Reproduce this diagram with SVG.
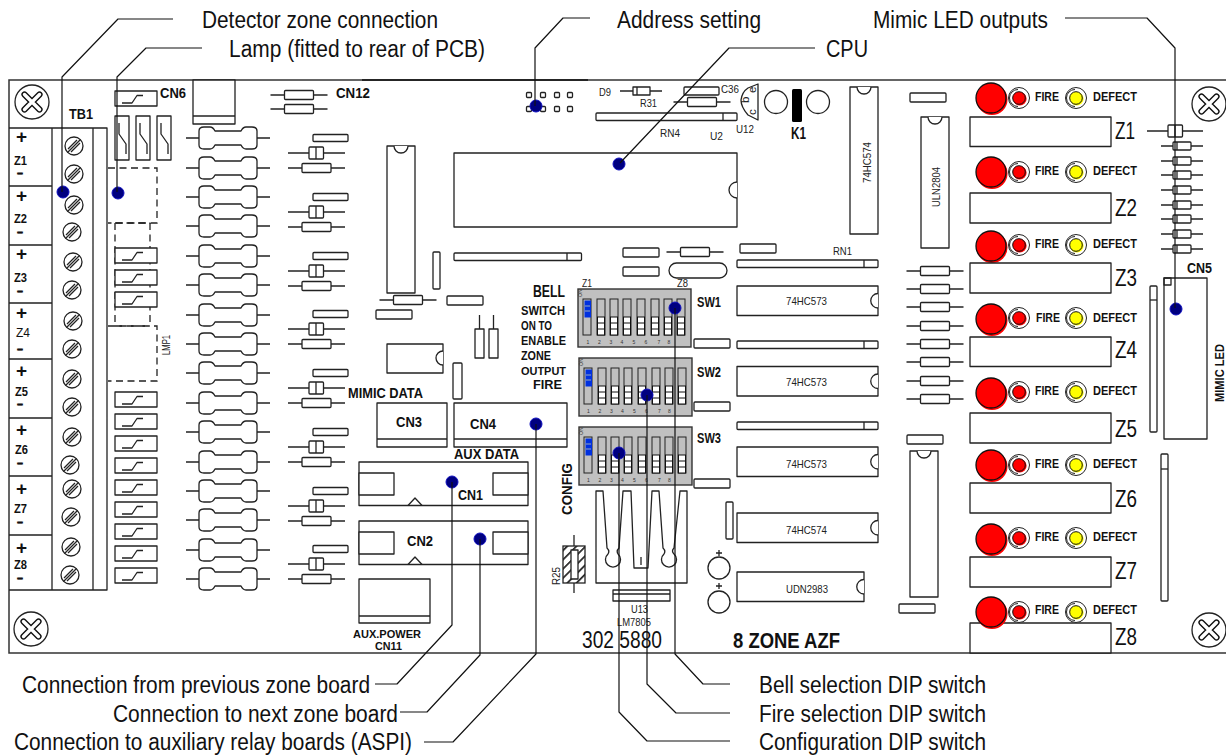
<svg xmlns="http://www.w3.org/2000/svg" xmlns:xlink="http://www.w3.org/1999/xlink" width="1226" height="755" viewBox="0 0 1226 755">
<style>
.l{fill:none;stroke:#222;stroke-width:1.3;stroke-linejoin:round}
.w{fill:#fff;stroke:#222;stroke-width:1.3;stroke-linejoin:round}
.d{fill:none;stroke:#222;stroke-width:1.3;stroke-dasharray:7 4.5}
.ld{fill:none;stroke:#111;stroke-width:1.2;stroke-linejoin:round}
.dot{fill:#000080;stroke:#1010c0;stroke-width:1}
text{font-family:"Liberation Sans",Arial,sans-serif;fill:#111}
.b{font-weight:bold}
.c{font-size:23px}
.s{font-size:11.500px;fill:#222}
.n{font-size:5px;fill:#333}
.f{font-size:12.500px;font-weight:bold}
.z{font-size:23px}
.cn{font-size:15px;font-weight:bold}
.zl{font-size:13.500px;font-weight:bold}
.mn{font-size:10px;font-weight:bold;stroke:#111;stroke-width:0.700px}
.sw{font-size:14px;font-weight:bold}
</style>
<defs>
<g id="screw"><circle r="17" class="w"/><path d="M-7.500-7.500 7.500 7.500M-7.500 7.500 7.500-7.500" fill="none" stroke="#111" stroke-width="6.200" stroke-linecap="round"/><path d="M-7.500-7.500 7.500 7.500M-7.500 7.500 7.500-7.500" fill="none" stroke="#fff" stroke-width="3.400" stroke-linecap="round"/></g>
<g id="term"><circle r="9" class="w"/><path d="M-6 3 3-6M-6.500 6.500 6.500-6.500M-3 6 6-3" class="l"/></g>
<g id="swh"><rect width="42" height="15" class="w"/><path d="M7 12H17L22 4.500H28" class="l"/></g>
<g id="swv"><rect width="14" height="44" class="w"/><path d="M4 7V18L11 28V38" class="l"/></g>
<g id="fuse"><path d="M-42 0H-29M29 0H42" class="l"/><path d="M-24-11H-18Q-15-11-13-7H13Q15-11 18-11H24Q29-11 29-7V7Q29 11 24 11H18Q15 11 13 7H-13Q-15 11-18 11H-24Q-29 11-29 7V-7Q-29-11-24-11Z" class="w"/></g>
<g id="res"><path d="M-28.500 0H28.500" class="l"/><rect x="-14.500" y="-4.500" width="29" height="9" rx="1" class="w"/></g>
<g id="rgrp"><rect x="-3" y="-3.500" width="35" height="7" rx="1" class="w"/><path d="M-28 15H29" class="l"/><rect x="-7" y="9" width="14.500" height="12" rx="1" class="w"/><path d="M0 9V21" class="l"/><use xlink:href="#res" href="#res" y="30" x="0.500"/></g>
<g id="dr"><path d="M-14 0H28" class="l"/><rect x="-2" y="-4" width="18" height="8" rx="1" class="w"/><path d="M2-4V4" class="l"/></g>
<g id="rect36"><rect width="36" height="9" rx="1" class="w"/></g>
<g id="strip"><rect width="141" height="7.500" rx="1" class="w"/><path d="M127 0V7.500" class="l"/></g>
<g id="ic141"><rect width="141" height="29.500" class="w"/><path d="M141 7.500A7 7 0 0 0 141 22" class="w"/></g>
<g id="cn12"><rect width="169" height="43.500" class="w"/><rect y="11" width="35" height="22" class="w"/><rect x="134" y="11" width="35" height="22" class="w"/><path d="M49 43.500 56 36 63 43.500" class="l"/></g>
<g id="big"><circle cx="1" cy="1.500" r="15.500" fill="#f00"/><circle r="15" fill="#f00" stroke="#111" stroke-width="1.300"/></g>
<g id="ring"><circle r="10.500" fill="#fff" stroke="#222" stroke-width="1"/><path d="M-1-8.500A8.500 8.500 0 0 0-1 8.500" fill="none" stroke="#222" stroke-width="1"/></g>
<g id="redled"><use xlink:href="#ring" href="#ring"/><circle cx="0.800" cy="0.800" r="6.800" fill="#f00"/><circle r="6.300" fill="#f00" stroke="#111"/></g>
<g id="yelled"><use xlink:href="#ring" href="#ring"/><circle cx="0.800" cy="0.800" r="6.800" fill="#ff0"/><circle r="6.300" fill="#ff0" stroke="#111"/></g>
<g id="slot"><rect width="8" height="36" fill="#c0c0c0" stroke="#222" stroke-width="1"/><rect x="0.500" y="18" width="7" height="18" fill="#fff" stroke="#111" stroke-width="1"/><path d="M0.500 24H7.500M0.500 30H7.500" stroke="#111" stroke-width="1" fill="none"/></g>
<g id="slot1"><rect width="8" height="36" fill="#c0c0c0" stroke="#222" stroke-width="1"/><rect x="1.500" y="1.500" width="6.500" height="17" fill="#0030e0"/><path d="M2 7H7M2 12H7" stroke="#9ab" stroke-width="1" fill="none"/></g>
<g id="dip"><rect width="113" height="58" fill="#c0c0c0" stroke="#333" stroke-width="1.400"/><use xlink:href="#slot1" href="#slot1" x="5" y="10"/><use xlink:href="#slot" href="#slot" x="19" y="10"/><use xlink:href="#slot" href="#slot" x="32" y="10"/><use xlink:href="#slot" href="#slot" x="45" y="10"/><use xlink:href="#slot" href="#slot" x="59" y="10"/><use xlink:href="#slot" href="#slot" x="73" y="10"/><use xlink:href="#slot" href="#slot" x="86" y="10"/><use xlink:href="#slot" href="#slot" x="99" y="10"/></g>
<pattern id="hatch" width="6.500" height="6.500" patternUnits="userSpaceOnUse" patternTransform="rotate(45)"><rect width="6.500" height="6.500" fill="#fff"/><rect width="1.700" height="6.500" fill="#222"/></pattern>
</defs>
<rect width="1226" height="755" fill="#fff"/>

<g id="board"><path d="M1226 80H9V653H1226" fill="none" stroke="#333" stroke-width="1.500"/><path d="M362 80H588" stroke="#111" stroke-width="1.500" fill="none"/></g>

<g id="mount-screws">
<use xlink:href="#screw" href="#screw" x="32" y="102"/>
<use xlink:href="#screw" href="#screw" x="31" y="629"/>
<use xlink:href="#screw" href="#screw" x="1209" y="104"/>
<use xlink:href="#screw" href="#screw" x="1209" y="630"/>
</g>

<g id="tb1">
<path d="M9 128H107V590H9M52 128V590M93 128V590M9 186H52M9 245H52M9 303H52M9 359H52M9 418H52M9 476H52M9 535H52" class="l"/>
<use xlink:href="#term" href="#term" x="74" y="146"/><use xlink:href="#term" href="#term" x="74" y="174"/><use xlink:href="#term" href="#term" x="74" y="205"/><use xlink:href="#term" href="#term" x="72" y="232"/><use xlink:href="#term" href="#term" x="73" y="262"/><use xlink:href="#term" href="#term" x="72" y="290"/><use xlink:href="#term" href="#term" x="73" y="321"/><use xlink:href="#term" href="#term" x="72" y="349"/><use xlink:href="#term" href="#term" x="72" y="379"/><use xlink:href="#term" href="#term" x="72" y="407"/><use xlink:href="#term" href="#term" x="72" y="437"/><use xlink:href="#term" href="#term" x="70" y="465"/><use xlink:href="#term" href="#term" x="72" y="489"/><use xlink:href="#term" href="#term" x="71" y="517"/><use xlink:href="#term" href="#term" x="71" y="547"/><use xlink:href="#term" href="#term" x="70" y="575"/>
<text x="69" y="119" class="b" font-size="14.500" textLength="24" lengthAdjust="spacingAndGlyphs">TB1</text>
<g class="b" font-size="19">
<text x="16" y="143">+</text><text x="16" y="202">+</text><text x="16" y="260">+</text><text x="16" y="319">+</text><text x="16" y="377">+</text><text x="16" y="436">+</text><text x="16" y="495">+</text><text x="16" y="554">+</text>
</g>
<text x="14" y="165" class="zl" textLength="13" lengthAdjust="spacingAndGlyphs">Z1</text><text x="14" y="223" class="zl" textLength="13" lengthAdjust="spacingAndGlyphs">Z2</text><text x="14" y="282" class="zl" textLength="13" lengthAdjust="spacingAndGlyphs">Z3</text><text x="16" y="337" font-size="13.500" textLength="14" lengthAdjust="spacingAndGlyphs">Z4</text><text x="15" y="396" class="zl" textLength="13" lengthAdjust="spacingAndGlyphs">Z5</text><text x="15" y="454" class="zl" textLength="13" lengthAdjust="spacingAndGlyphs">Z6</text><text x="14" y="513" class="zl" textLength="13" lengthAdjust="spacingAndGlyphs">Z7</text><text x="14" y="569" class="zl" textLength="13" lengthAdjust="spacingAndGlyphs">Z8</text>
<text x="17" y="175.500" class="mn" textLength="6" lengthAdjust="spacingAndGlyphs">-</text><text x="17" y="234.500" class="mn" textLength="6" lengthAdjust="spacingAndGlyphs">-</text><text x="17" y="293.500" class="mn" textLength="6" lengthAdjust="spacingAndGlyphs">-</text><text x="17" y="351.500" class="mn" textLength="6" lengthAdjust="spacingAndGlyphs">-</text><text x="17" y="406.500" class="mn" textLength="6" lengthAdjust="spacingAndGlyphs">-</text><text x="17" y="465.500" class="mn" textLength="6" lengthAdjust="spacingAndGlyphs">-</text><text x="17" y="524.500" class="mn" textLength="6" lengthAdjust="spacingAndGlyphs">-</text><text x="17" y="580.500" class="mn" textLength="6" lengthAdjust="spacingAndGlyphs">-</text>
</g>

<g id="cn6">
<use xlink:href="#swh" href="#swh" x="115" y="91"/>
<text x="160" y="98" class="cn" textLength="26" lengthAdjust="spacingAndGlyphs">CN6</text>
<use xlink:href="#swv" href="#swv" x="115" y="116"/><use xlink:href="#swv" href="#swv" x="136" y="116"/><use xlink:href="#swv" href="#swv" x="157" y="116"/>
</g>
<g id="relay"><rect x="193" y="80" width="42" height="44" class="w"/><path d="M193 116H235" class="l"/></g>

<g id="lmp1">
<path d="M108 168H157V223H108M115 223V326M150 223V326M108 326H157V381H108" class="d"/>
<path d="M115 223H150M115 326H150" class="d"/>
<text transform="rotate(-90 170 355)" x="170" y="355" class="s" textLength="20" lengthAdjust="spacingAndGlyphs">LMP1</text>
</g>
<g id="opto-switches">
<use xlink:href="#swh" href="#swh" x="115" y="248"/><use xlink:href="#swh" href="#swh" x="115" y="270"/><use xlink:href="#swh" href="#swh" x="115" y="292"/><use xlink:href="#swh" href="#swh" x="115" y="392"/><use xlink:href="#swh" href="#swh" x="115" y="414"/><use xlink:href="#swh" href="#swh" x="115" y="436"/><use xlink:href="#swh" href="#swh" x="115" y="458"/><use xlink:href="#swh" href="#swh" x="115" y="480"/><use xlink:href="#swh" href="#swh" x="115" y="502"/><use xlink:href="#swh" href="#swh" x="115" y="524"/><use xlink:href="#swh" href="#swh" x="115" y="546"/><use xlink:href="#swh" href="#swh" x="115" y="568"/>
</g>
<g id="fuses">
<use xlink:href="#fuse" href="#fuse" x="228" y="138"/><use xlink:href="#fuse" href="#fuse" x="228" y="168"/><use xlink:href="#fuse" href="#fuse" x="228" y="197"/><use xlink:href="#fuse" href="#fuse" x="228" y="226"/><use xlink:href="#fuse" href="#fuse" x="228" y="256"/><use xlink:href="#fuse" href="#fuse" x="228" y="285"/><use xlink:href="#fuse" href="#fuse" x="228" y="315"/><use xlink:href="#fuse" href="#fuse" x="228" y="344"/><use xlink:href="#fuse" href="#fuse" x="228" y="373"/><use xlink:href="#fuse" href="#fuse" x="228" y="403"/><use xlink:href="#fuse" href="#fuse" x="228" y="432"/><use xlink:href="#fuse" href="#fuse" x="228" y="462"/><use xlink:href="#fuse" href="#fuse" x="228" y="491"/><use xlink:href="#fuse" href="#fuse" x="228" y="520"/><use xlink:href="#fuse" href="#fuse" x="228" y="550"/><use xlink:href="#fuse" href="#fuse" x="228" y="579"/>
</g>
<g id="input-components">
<use xlink:href="#rgrp" href="#rgrp" x="316" y="138"/><use xlink:href="#rgrp" href="#rgrp" x="316" y="197"/><use xlink:href="#rgrp" href="#rgrp" x="316" y="256"/><use xlink:href="#rgrp" href="#rgrp" x="316" y="314"/><use xlink:href="#rgrp" href="#rgrp" x="316" y="373"/><use xlink:href="#rgrp" href="#rgrp" x="316" y="432"/><use xlink:href="#rgrp" href="#rgrp" x="316" y="491"/><use xlink:href="#rgrp" href="#rgrp" x="316" y="549"/>
</g>
<g id="cn12-block">
<use xlink:href="#res" href="#res" x="299" y="95"/><use xlink:href="#res" href="#res" x="299" y="109"/>
<text x="336" y="98" class="cn" textLength="34" lengthAdjust="spacingAndGlyphs">CN12</text>
</g>
<g id="address-header" fill="#fff" stroke="#222" stroke-width="1.300">
<rect x="526.500" y="92.500" width="5" height="5" rx="1"/><rect x="540.500" y="92.500" width="5" height="5" rx="1"/><rect x="554.500" y="92.500" width="5" height="5" rx="1"/><rect x="567.500" y="92.500" width="5" height="5" rx="1"/><rect x="526.500" y="106.500" width="5" height="5" rx="1"/><rect x="540.500" y="106.500" width="5" height="5" rx="1"/><rect x="554.500" y="106.500" width="5" height="5" rx="1"/><rect x="567.500" y="106.500" width="5" height="5" rx="1"/>
</g>
<g id="ic-left"><rect x="387" y="146" width="28" height="147" class="w"/><path d="M394 146A7 7 0 0 0 408 146" class="w"/></g>
<g id="cpu"><rect x="454" y="153" width="283" height="74" class="w"/><path d="M737 182A8 8 0 0 0 737 198" class="w"/>
<text x="710" y="140" class="s" textLength="13" lengthAdjust="spacingAndGlyphs">U2</text></g>
<g id="mid-parts">
<rect x="454" y="253" width="127.500" height="7.500" rx="1" class="w"/><path d="M567 253V260.500" class="l"/>
<rect x="433" y="252" width="7" height="37" rx="1" class="w"/>
<use xlink:href="#res" href="#res" x="408" y="300"/>
<use xlink:href="#rect36" href="#rect36" x="447" y="296"/><use xlink:href="#rect36" href="#rect36" x="376" y="310"/>
<path d="M479.500 315V329M493.500 315V329" class="l"/><rect x="475" y="329" width="9" height="29" class="w"/><rect x="489" y="329" width="9" height="29" class="w"/>
<rect x="387" y="344" width="56" height="29" class="w"/><path d="M443 351A7 7 0 0 0 443 365" class="w"/>
<rect x="453" y="363" width="9" height="36" rx="1" class="w"/>
</g>
<g id="cn3"><rect x="377" y="403" width="70" height="44" class="w"/><path d="M377 439H447" class="l"/>
<text x="396" y="427" class="cn" textLength="26" lengthAdjust="spacingAndGlyphs">CN3</text>
<text x="348" y="398" class="cn" textLength="75" lengthAdjust="spacingAndGlyphs">MIMIC DATA</text></g>
<g id="cn4"><rect x="454" y="403" width="113" height="44" class="w"/><path d="M454 439H567" class="l"/>
<text x="470" y="429" class="cn" textLength="26" lengthAdjust="spacingAndGlyphs">CN4</text>
<text x="454" y="459" class="cn" textLength="65" lengthAdjust="spacingAndGlyphs">AUX DATA</text></g>
<g id="cn1"><use xlink:href="#cn12" href="#cn12" x="359" y="462"/><text x="458" y="500" class="cn" textLength="25" lengthAdjust="spacingAndGlyphs">CN1</text></g>
<g id="cn2"><use xlink:href="#cn12" href="#cn12" x="359" y="521"/><text x="407" y="546" class="cn" textLength="26" lengthAdjust="spacingAndGlyphs">CN2</text></g>
<g id="cn11"><rect x="359" y="579" width="71" height="44" class="w"/><path d="M359 616H430" class="l"/>
<text x="353" y="637.500" class="b" font-size="11" textLength="68" lengthAdjust="spacingAndGlyphs">AUX.POWER</text>
<text x="375" y="650" class="b" font-size="11" textLength="27" lengthAdjust="spacingAndGlyphs">CN11</text></g>

<g id="sw1"><use xlink:href="#dip" href="#dip" x="578" y="289"/>
<text x="582" y="287" class="s" textLength="10" lengthAdjust="spacingAndGlyphs">Z1</text><text x="677" y="287" class="s" textLength="11" lengthAdjust="spacingAndGlyphs">Z8</text>
<text x="697" y="307" class="sw" textLength="24" lengthAdjust="spacingAndGlyphs">SW1</text>
<text transform="rotate(-90 582 297)" x="582" y="297" class="n">ON</text>
<text x="586.500" y="344" class="n">1</text><text x="598" y="344" class="n">2</text><text x="609.500" y="344" class="n">3</text><text x="620.500" y="344" class="n">4</text><text x="632.500" y="344" class="n">5</text><text x="644.500" y="344" class="n">6</text><text x="657.500" y="344" class="n">7</text><text x="667.500" y="344" class="n">8</text></g>
<g id="sw2"><use xlink:href="#dip" href="#dip" x="579" y="358"/>
<text x="697" y="377" class="sw" textLength="24" lengthAdjust="spacingAndGlyphs">SW2</text>
<text transform="rotate(-90 583 366)" x="583" y="366" class="n">ON</text>
<text x="587" y="413" class="n">1</text><text x="598.500" y="413" class="n">2</text><text x="610" y="413" class="n">3</text><text x="621" y="413" class="n">4</text><text x="633" y="413" class="n">5</text><text x="645" y="413" class="n">6</text><text x="658" y="413" class="n">7</text><text x="668" y="413" class="n">8</text></g>
<g id="sw3"><use xlink:href="#dip" href="#dip" x="579" y="427"/>
<text x="697" y="443" class="sw" textLength="24" lengthAdjust="spacingAndGlyphs">SW3</text>
<text transform="rotate(-90 583 435)" x="583" y="435" class="n">ON</text>
<text x="587" y="482" class="n">1</text><text x="598.500" y="482" class="n">2</text><text x="610" y="482" class="n">3</text><text x="621" y="482" class="n">4</text><text x="633" y="482" class="n">5</text><text x="645" y="482" class="n">6</text><text x="658" y="482" class="n">7</text><text x="668" y="482" class="n">8</text></g>

<g id="dip-labels" class="b">
<text x="533" y="297" font-size="16" textLength="32" lengthAdjust="spacingAndGlyphs">BELL</text>
<text x="521" y="315" font-size="12.500" textLength="44" lengthAdjust="spacingAndGlyphs">SWITCH</text>
<text x="521" y="330" font-size="12.500" textLength="31" lengthAdjust="spacingAndGlyphs">ON TO</text>
<text x="521" y="345" font-size="12.500" textLength="45" lengthAdjust="spacingAndGlyphs">ENABLE</text>
<text x="521" y="360" font-size="12.500" textLength="30" lengthAdjust="spacingAndGlyphs">ZONE</text>
<text x="521" y="374.500" font-size="11" textLength="45" lengthAdjust="spacingAndGlyphs">OUTPUT</text>
<text x="533" y="389" font-size="13" textLength="29" lengthAdjust="spacingAndGlyphs">FIRE</text>
<text transform="rotate(-90 572 515)" x="572" y="515" font-size="15.500" textLength="52" lengthAdjust="spacingAndGlyphs">CONFIG</text>
</g>
<g id="small-rects">
<use xlink:href="#rect36" href="#rect36" x="694" y="339"/><use xlink:href="#rect36" href="#rect36" x="694" y="402"/><use xlink:href="#rect36" href="#rect36" x="694" y="479"/>
</g>
<g id="r25"><path d="M574 535V593" class="l"/><rect x="563" y="546" width="22" height="37" fill="url(#hatch)" stroke="#222" stroke-width="1.300"/><rect x="571" y="550" width="7" height="29" class="w"/>
<text transform="rotate(-90 560 585)" x="560" y="585" class="s" textLength="18" lengthAdjust="spacingAndGlyphs">R25</text></g>
<g id="heatsink">
<path d="M596 491V583H687V491H680L674 548Q671 551 674 554A7.500 7.500 0 1 1 664 554Q666 551 663 548L659 491H652L648 568H634L631 491H623L619 548Q616 551 618 554A7.500 7.500 0 1 1 608 554Q610 551 607 548L603 491Z" class="w"/>
<path d="M641 557V565" class="l"/>
<rect x="613" y="590" width="57" height="11" class="w"/><path d="M613 594H670" class="l"/>
<text x="631" y="613" class="s" textLength="17" lengthAdjust="spacingAndGlyphs">U13</text><text x="617" y="626" class="s" textLength="34" lengthAdjust="spacingAndGlyphs">LM7805</text>
<text x="582" y="648" font-size="23" textLength="80" lengthAdjust="spacingAndGlyphs">302 5880</text>
</g>
<g id="top-parts">
<text x="599" y="96" class="s" textLength="12" lengthAdjust="spacingAndGlyphs">D9</text>
<path d="M620 91H662" class="l"/><rect x="633" y="87" width="17" height="8" class="w"/><path d="M637 87V95" class="l"/>
<rect x="684" y="87" width="35" height="8" rx="1" class="w"/><text x="721" y="93" class="s" textLength="18" lengthAdjust="spacingAndGlyphs">C36</text>
<use xlink:href="#res" href="#res" x="702" y="102"/><text x="640" y="107" class="s" textLength="17" lengthAdjust="spacingAndGlyphs">R31</text>
<use xlink:href="#strip" href="#strip" x="596" y="113"/><text x="660" y="137" class="s" textLength="20" lengthAdjust="spacingAndGlyphs">RN4</text>
<path d="M758 84V120L748 115Q741 107 741 100Q742 92 748 88Z" class="w"/>
<text transform="rotate(-90 756 93)" x="756" y="93" class="s">e</text><text transform="rotate(-90 749 103)" x="749" y="103" class="s">b</text><text transform="rotate(-90 756 115)" x="756" y="115" class="s">c</text>
<text x="736" y="133" class="s" textLength="18" lengthAdjust="spacingAndGlyphs">U12</text>
</g>
<g id="k1"><circle cx="776" cy="102" r="11.500" class="w"/><circle cx="818" cy="102" r="11.500" class="w"/><rect x="792" y="89" width="10" height="33" rx="1.500" fill="#000"/><text x="791" y="139" class="b" font-size="16" textLength="15" lengthAdjust="spacingAndGlyphs">K1</text></g>
<g id="ic-74hc574-v"><rect x="850" y="87" width="28" height="147" class="w"/><path d="M857 87A7 7 0 0 0 871 87" class="w"/><text transform="rotate(-90 871 183)" x="871" y="183" class="s" textLength="41" lengthAdjust="spacingAndGlyphs">74HC574</text></g>
<g id="ic-uln2804"><use xlink:href="#rect36" href="#rect36" x="910" y="93"/><rect x="921" y="117" width="28" height="131" class="w"/><path d="M928 117A7 7 0 0 0 942 117" class="w"/><text transform="rotate(-90 940 207)" x="940" y="207" class="s" textLength="40" lengthAdjust="spacingAndGlyphs">ULN2804</text></g>
<g id="centre-parts">
<use xlink:href="#rect36" href="#rect36" x="623" y="248"/><use xlink:href="#rect36" href="#rect36" x="623" y="267"/>
<use xlink:href="#res" href="#res" x="695" y="252"/>
<rect x="669" y="263" width="58" height="15" rx="7.500" class="w"/>
<use xlink:href="#rect36" href="#rect36" x="740" y="244"/>
<use xlink:href="#strip" href="#strip" x="737" y="260"/><text x="833" y="255" class="s" textLength="19" lengthAdjust="spacingAndGlyphs">RN1</text>
<use xlink:href="#strip" href="#strip" x="737" y="341"/><use xlink:href="#strip" href="#strip" x="737" y="422"/>
</g>
<g id="ic-1"><use xlink:href="#ic141" href="#ic141" x="737" y="286"/><text x="786" y="305" class="s" textLength="41" lengthAdjust="spacingAndGlyphs">74HC573</text></g>
<g id="ic-2"><use xlink:href="#ic141" href="#ic141" x="737" y="366.500"/><text x="786" y="386" class="s" textLength="41" lengthAdjust="spacingAndGlyphs">74HC573</text></g>
<g id="ic-3"><use xlink:href="#ic141" href="#ic141" x="737" y="447"/><text x="786" y="468" class="s" textLength="41" lengthAdjust="spacingAndGlyphs">74HC573</text></g>
<g id="ic-4"><use xlink:href="#ic141" href="#ic141" x="737" y="513"/><text x="786" y="534" class="s" textLength="41" lengthAdjust="spacingAndGlyphs">74HC574</text></g>
<g id="ic-udn2983"><rect x="737" y="572" width="127" height="29.500" class="w"/><path d="M864 579.500A7 7 0 0 0 864 594" class="w"/><text x="786" y="593" class="s" textLength="42" lengthAdjust="spacingAndGlyphs">UDN2983</text></g>
<g id="caps">
<rect x="726" y="502" width="7" height="37" rx="1" class="w"/>
<circle cx="719" cy="568" r="11" class="w"/><circle cx="719" cy="602" r="11" class="w"/>
<path d="M716 553H722M719 550V556M716 586H722M719 583V589" class="l"/>
</g>
<g id="resistor-column">
<use xlink:href="#res" href="#res" x="935" y="271"/><use xlink:href="#res" href="#res" x="935" y="289"/><use xlink:href="#res" href="#res" x="935" y="307"/><use xlink:href="#res" href="#res" x="935" y="326"/><use xlink:href="#res" href="#res" x="935" y="344"/><use xlink:href="#res" href="#res" x="935" y="362"/><use xlink:href="#res" href="#res" x="935" y="381"/><use xlink:href="#res" href="#res" x="935" y="399"/>
</g>
<g id="ic-lower"><use xlink:href="#rect36" href="#rect36" x="907" y="435"/><rect x="910" y="451" width="28" height="146" class="w"/><path d="M917 451A7 7 0 0 0 931 451" class="w"/><use xlink:href="#rect36" href="#rect36" x="899" y="604"/></g>
<text id="title" x="733" y="648" class="b" font-size="22" textLength="107" lengthAdjust="spacingAndGlyphs">8 ZONE AZF</text>

<g id="zone-1"><use xlink:href="#big" href="#big" x="991" y="98"/><use xlink:href="#redled" href="#redled" x="1019" y="98"/><use xlink:href="#yelled" href="#yelled" x="1076" y="98"/><text x="1035" y="101" class="f" textLength="24" lengthAdjust="spacingAndGlyphs">FIRE</text><text x="1093" y="101" class="f" textLength="44" lengthAdjust="spacingAndGlyphs">DEFECT</text><rect x="970" y="117" width="141" height="29.500" class="w"/><text x="1115" y="139" class="z" textLength="20" lengthAdjust="spacingAndGlyphs">Z1</text></g>
<g id="zone-2"><use xlink:href="#big" href="#big" x="991" y="172"/><use xlink:href="#redled" href="#redled" x="1019" y="172"/><use xlink:href="#yelled" href="#yelled" x="1076" y="172"/><text x="1035" y="175" class="f" textLength="24" lengthAdjust="spacingAndGlyphs">FIRE</text><text x="1093" y="175" class="f" textLength="44" lengthAdjust="spacingAndGlyphs">DEFECT</text><rect x="970" y="193" width="141" height="30" class="w"/><text x="1115" y="216" class="z" textLength="22" lengthAdjust="spacingAndGlyphs">Z2</text></g>
<g id="zone-3"><use xlink:href="#big" href="#big" x="991" y="246"/><use xlink:href="#redled" href="#redled" x="1019" y="245"/><use xlink:href="#yelled" href="#yelled" x="1076" y="245"/><text x="1035" y="248" class="f" textLength="24" lengthAdjust="spacingAndGlyphs">FIRE</text><text x="1093" y="248" class="f" textLength="44" lengthAdjust="spacingAndGlyphs">DEFECT</text><rect x="970" y="263" width="141" height="30" class="w"/><text x="1115" y="286" class="z" textLength="22" lengthAdjust="spacingAndGlyphs">Z3</text></g>
<g id="zone-4"><use xlink:href="#big" href="#big" x="991" y="319"/><use xlink:href="#redled" href="#redled" x="1019" y="318"/><use xlink:href="#yelled" href="#yelled" x="1076" y="318"/><text x="1036" y="322" class="f" textLength="24" lengthAdjust="spacingAndGlyphs">FIRE</text><text x="1093" y="322" class="f" textLength="44" lengthAdjust="spacingAndGlyphs">DEFECT</text><rect x="970" y="337" width="141" height="29.500" class="w"/><text x="1115" y="358" class="z" textLength="22" lengthAdjust="spacingAndGlyphs">Z4</text></g>
<g id="zone-5"><use xlink:href="#big" href="#big" x="991" y="393"/><use xlink:href="#redled" href="#redled" x="1019" y="392"/><use xlink:href="#yelled" href="#yelled" x="1076" y="392"/><text x="1035" y="395" class="f" textLength="24" lengthAdjust="spacingAndGlyphs">FIRE</text><text x="1093" y="395" class="f" textLength="44" lengthAdjust="spacingAndGlyphs">DEFECT</text><rect x="970" y="413" width="141" height="30" class="w"/><text x="1115" y="437" class="z" textLength="22" lengthAdjust="spacingAndGlyphs">Z5</text></g>
<g id="zone-6"><use xlink:href="#big" href="#big" x="991" y="465"/><use xlink:href="#redled" href="#redled" x="1019" y="465"/><use xlink:href="#yelled" href="#yelled" x="1076" y="465"/><text x="1035" y="468" class="f" textLength="24" lengthAdjust="spacingAndGlyphs">FIRE</text><text x="1093" y="468" class="f" textLength="44" lengthAdjust="spacingAndGlyphs">DEFECT</text><rect x="970" y="483" width="141" height="30" class="w"/><text x="1115" y="507" class="z" textLength="22" lengthAdjust="spacingAndGlyphs">Z6</text></g>
<g id="zone-7"><use xlink:href="#big" href="#big" x="991" y="539"/><use xlink:href="#redled" href="#redled" x="1019" y="538"/><use xlink:href="#yelled" href="#yelled" x="1076" y="538"/><text x="1035" y="541" class="f" textLength="24" lengthAdjust="spacingAndGlyphs">FIRE</text><text x="1093" y="541" class="f" textLength="44" lengthAdjust="spacingAndGlyphs">DEFECT</text><rect x="970" y="557" width="141" height="30" class="w"/><text x="1115" y="579" class="z" textLength="22" lengthAdjust="spacingAndGlyphs">Z7</text></g>
<g id="zone-8"><rect x="970" y="623" width="141" height="30" class="w"/><use xlink:href="#big" href="#big" x="991" y="612"/><use xlink:href="#redled" href="#redled" x="1019" y="612"/><use xlink:href="#yelled" href="#yelled" x="1076" y="612"/><text x="1035" y="614" class="f" textLength="24" lengthAdjust="spacingAndGlyphs">FIRE</text><text x="1093" y="614" class="f" textLength="44" lengthAdjust="spacingAndGlyphs">DEFECT</text><text x="1115" y="645" class="z" textLength="22" lengthAdjust="spacingAndGlyphs">Z8</text></g>

<g id="mimic-diodes">
<path d="M1147 131H1203" class="l"/><rect x="1168" y="125" width="14.500" height="12" rx="1" class="w"/><path d="M1175 125V137" class="l"/>
<use xlink:href="#dr" href="#dr" x="1175" y="146"/><use xlink:href="#dr" href="#dr" x="1175" y="161"/><use xlink:href="#dr" href="#dr" x="1175" y="175"/><use xlink:href="#dr" href="#dr" x="1175" y="190"/><use xlink:href="#dr" href="#dr" x="1175" y="205"/><use xlink:href="#dr" href="#dr" x="1175" y="219"/><use xlink:href="#dr" href="#dr" x="1175" y="234"/><use xlink:href="#dr" href="#dr" x="1175" y="249"/>
</g>
<g id="cn5"><rect x="1164" y="278" width="43" height="161" class="w"/><rect x="1164" y="278" width="7" height="7" class="l"/>
<text x="1187" y="273" class="cn" textLength="25" lengthAdjust="spacingAndGlyphs">CN5</text>
<text transform="rotate(-90 1224 402)" x="1224" y="402" class="b" font-size="12" textLength="58" lengthAdjust="spacingAndGlyphs">MIMIC LED</text></g>
<g id="side-strips"><rect x="1150" y="286" width="7" height="146" rx="1" class="w"/><path d="M1150 300H1157" class="l"/><rect x="1161" y="454" width="7" height="147" rx="1" class="w"/><path d="M1161 469H1168" class="l"/></g>

<g id="connector-dots">
<circle cx="63" cy="192" r="6" class="dot"/><circle cx="118" cy="193" r="6" class="dot"/><circle cx="536" cy="106" r="6" class="dot"/><circle cx="619" cy="164" r="6" class="dot"/><circle cx="1176" cy="309" r="6" class="dot"/><circle cx="452" cy="482" r="6" class="dot"/><circle cx="480" cy="539" r="6" class="dot"/><circle cx="536" cy="424" r="6" class="dot"/><circle cx="675" cy="308" r="6" class="dot"/><circle cx="647" cy="395" r="6" class="dot"/><circle cx="619" cy="453" r="6" class="dot"/>
</g>
<g id="connectors">
<path d="M173 19H118L62 77V192" class="ld"/>
<path d="M202 48H146L117 77V192" class="ld"/>
<path d="M590 18H563L535 48V106" class="ld"/>
<path d="M815 48H729L620 163" class="ld"/>
<path d="M1065 18H1147L1175 48V308" class="ld"/>
<path d="M452 482V625L397 684H375" class="ld"/>
<path d="M480 539V655L427 712H400" class="ld"/>
<path d="M536 424V654L453 742H424" class="ld"/>
<path d="M675 308V654L703 684H730" class="ld"/>
<path d="M647 395V684L676 713H730" class="ld"/>
<path d="M619 453V712L647 741H730" class="ld"/>
</g>
<g id="callouts">
<text x="202" y="28" class="c" textLength="236" lengthAdjust="spacingAndGlyphs">Detector zone connection</text>
<text x="229" y="57" class="c" textLength="256" lengthAdjust="spacingAndGlyphs">Lamp (fitted to rear of PCB)</text>
<text x="617" y="28" class="c" textLength="144" lengthAdjust="spacingAndGlyphs">Address setting</text>
<text x="826" y="57" class="c" textLength="42" lengthAdjust="spacingAndGlyphs">CPU</text>
<text x="873" y="28" class="c" textLength="175" lengthAdjust="spacingAndGlyphs">Mimic LED outputs</text>
<text x="22" y="693" class="c" textLength="348" lengthAdjust="spacingAndGlyphs">Connection from previous zone board</text>
<text x="113" y="722" class="c" textLength="285" lengthAdjust="spacingAndGlyphs">Connection to next zone board</text>
<text x="14" y="750" class="c" textLength="398" lengthAdjust="spacingAndGlyphs">Connection to auxiliary relay boards (ASPI)</text>
<text x="759" y="693" class="c" textLength="227" lengthAdjust="spacingAndGlyphs">Bell selection DIP switch</text>
<text x="759" y="722" class="c" textLength="227" lengthAdjust="spacingAndGlyphs">Fire selection DIP switch</text>
<text x="759" y="750" class="c" textLength="227" lengthAdjust="spacingAndGlyphs">Configuration DIP switch</text>
</g>
</svg>
